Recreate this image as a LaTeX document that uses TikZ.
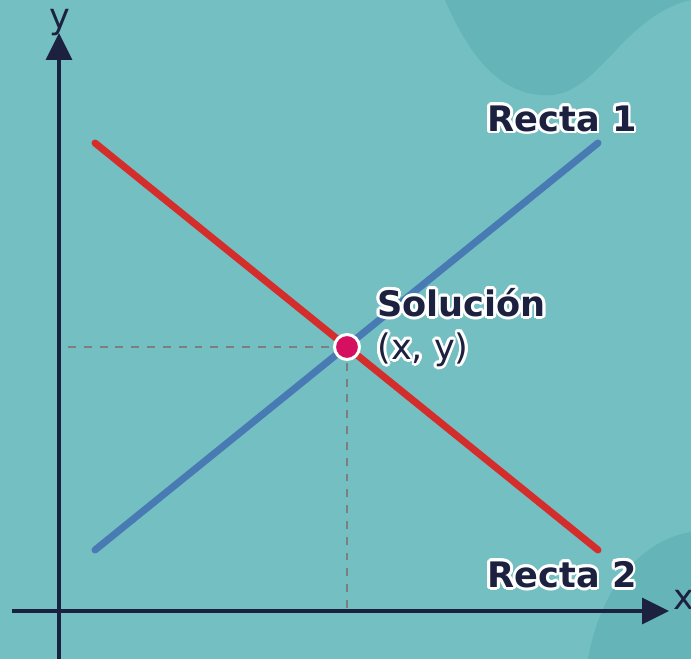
\documentclass[tikz,border=0pt]{standalone}
\usepackage{fontspec}
\setmainfont{DejaVu Sans}
\usepackage{contour}
\contourlength{1.6pt}
\usetikzlibrary{arrows.meta, positioning}
\definecolor{PlotBg}{RGB}{116, 191, 194}
\definecolor{PlotBlob}{RGB}{101, 181, 184}
\definecolor{AxisNavy}{RGB}{27, 33, 62}
\definecolor{LineRed}{RGB}{212, 46, 44}
\definecolor{LineBlue}{RGB}{72, 122, 180}
\definecolor{DotPink}{RGB}{214, 16, 96}
\definecolor{GuideGray}{RGB}{122, 127, 132}

\begin{document}
\begin{tikzpicture}[x=0.02cm, y=-0.02cm,
  axis/.style={AxisNavy, line width=1.8pt, -{Triangle[length=0.54cm, width=0.52cm]}},
  recta/.style={line width=4pt, line cap=round},
  guide/.style={GuideGray, line width=1.3pt, dash pattern=on 4.5pt off 4.5pt},
  lbl/.style={font=\fontsize{20}{22}\selectfont\bfseries, text=AxisNavy, inner sep=0pt},
  axlbl/.style={font=\fontsize{20}{22}\selectfont, text=AxisNavy, inner sep=0pt}
]
% background and blobs
\fill[PlotBg] (0,0) rectangle (691,659);
\useasboundingbox (0,0) rectangle (691,659);
\fill[PlotBlob] (445,0) .. controls (475,70) and (510,98) .. (553,95)
  .. controls (600,90) and (625,15) .. (691,0) -- cycle;
\fill[PlotBlob] (588,659) .. controls (600,590) and (640,540) .. (691,532) -- (691,659) -- cycle;

% points
\coordinate (o) at (59,611);
\coordinate (xs) at (12,611);
\coordinate (xe) at (669,611);
\coordinate (ys) at (59,659);
\coordinate (ye) at (59,33);
\coordinate (a1) at (95,550);
\coordinate (b1) at (598,143);
\coordinate (a2) at (95,143);
\coordinate (b2) at (598,550);
\coordinate (sol) at (347,347);
\coordinate (gx) at (68,347);
\coordinate (gy) at (347,611);

% axes
\draw[axis] (xs) -- (xe);
\draw[axis] (ys) -- (ye);
\node[axlbl] (xlbl) at (684,600) {x};
\node[axlbl] (ylbl) at (60,23) {y};

% guides
\draw[guide] (gx) -- (sol);
\draw[guide] (sol) -- (gy);

% lines
\draw[recta, LineBlue] (a1) -- (b1);
\draw[recta, LineRed] (a2) -- (b2);
\node[circle, fill=DotPink, draw=white, line width=1.7pt, minimum size=0.5cm, inner sep=0pt] (dot) at (sol) {};

% labels
\node[lbl] (r1) at (562,120) {\contour{white}{Recta 1}};
\node[lbl] (r2) at (562,576) {\contour{white}{Recta 2}};
\node[lbl, anchor=west] (soltxt) at (377,304) {\contour{white}{Solución}};
\node[axlbl, below=7pt of soltxt.south west, anchor=north west] (xy) {\contour{white}{(x, y)}};
\end{tikzpicture}
\end{document}
